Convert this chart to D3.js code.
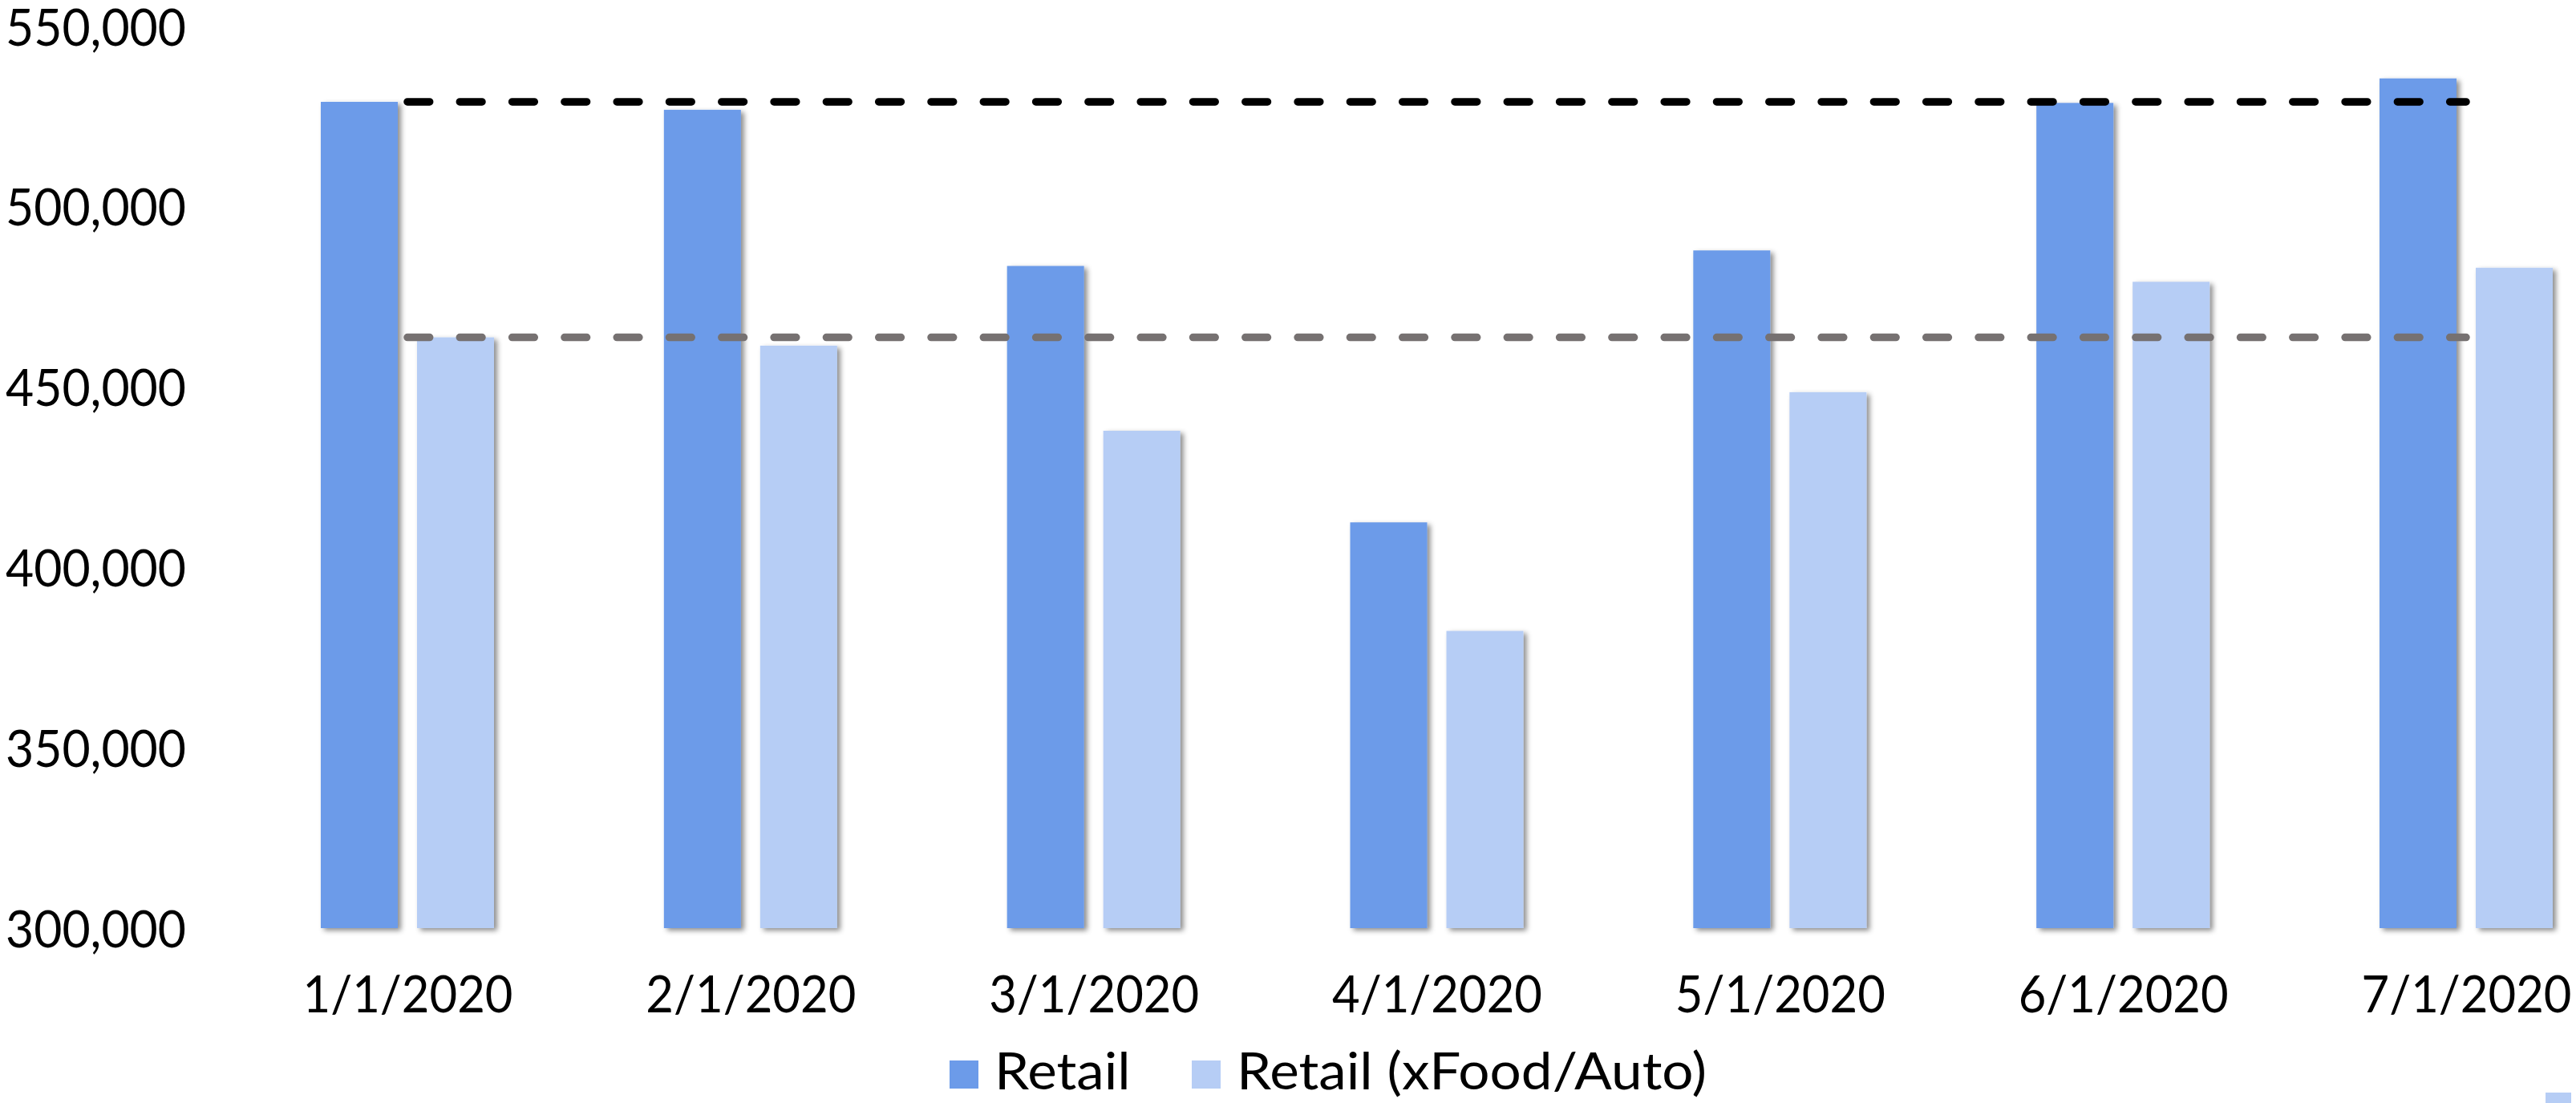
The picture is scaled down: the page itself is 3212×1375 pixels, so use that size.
<!DOCTYPE html>
<html>
<head>
<meta charset="utf-8">
<script src="https://cdn.jsdelivr.net/npm/d3@7"></script>
<style>
  html, body { margin: 0; padding: 0; background: #ffffff; }
  svg { display: block; }
  text { font-family: Lato, "Noto Sans", sans-serif; fill: #000; }
</style>
</head>
<body>
<svg id="chart" width="3212" height="1375"></svg>
<script>
// Monthly retail sales, 2020
const categories = ["1/1/2020", "2/1/2020", "3/1/2020", "4/1/2020", "5/1/2020", "6/1/2020", "7/1/2020"];
const retail = [529100, 526900, 483600, 412500, 487900, 528800, 535600];
const retailXFoodAuto = [463800, 461500, 437900, 382400, 448600, 479200, 483100];
const seriesNames = ["Retail", "Retail (xFood/Auto)"];
const yTickValues = [300000, 350000, 400000, 450000, 500000, 550000];

// January levels carried across the year as dashed reference lines
const referenceLevels = [retail[0], retailXFoodAuto[0]];

const colors = ["#6c9be9", "#b6cdf5"];
const refColors = ["#000000", "#767171"];

const svg = d3.select("#chart");

const y = d3.scaleLinear().domain([300000, 550000]).range([1157, 33]);
const x = d3.scalePoint().domain(categories).range([508, 3075]);
const xSub = d3.scaleBand().domain(d3.range(seriesNames.length)).range([-108, 108]).paddingInner(0.2);

// Stretch or squeeze a text selection so that a reference string spans a given width
function fitWidth(sel, sampleText, width) {
  let natural = null;
  sel.each(function () { if (this.textContent === sampleText) natural = this.getComputedTextLength(); });
  if (!natural) return;
  const k = width / natural;
  sel.each(function () {
    const w = this.getComputedTextLength() * k;
    d3.select(this).attr("textLength", w).attr("lengthAdjust", "spacingAndGlyphs");
  });
}

const defs = svg.append("defs");
const barShadow = defs.append("filter").attr("id", "barShadow")
  .attr("x", "-20%").attr("y", "-5%").attr("width", "140%").attr("height", "110%");
barShadow.append("feDropShadow")
  .attr("dx", 4).attr("dy", 3).attr("stdDeviation", 3)
  .attr("flood-color", "#000").attr("flood-opacity", 0.45);

const lineBlur = defs.append("filter").attr("id", "lineBlur")
  .attr("x", "-5%").attr("y", "-200%").attr("width", "110%").attr("height", "500%");
lineBlur.append("feGaussianBlur").attr("stdDeviation", 3.5);

// Bars
const rows = categories.map((c, i) => ({ cat: c, values: [retail[i], retailXFoodAuto[i]] }));
const groups = svg.append("g").selectAll("g.cat").data(rows).join("g")
  .attr("class", "cat")
  .attr("transform", d => `translate(${x(d.cat)},0)`);

groups.selectAll("rect").data(d => d.values.map((v, k) => ({ v, k }))).join("rect")
  .attr("x", d => xSub(d.k))
  .attr("width", xSub.bandwidth())
  .attr("y", d => y(d.v))
  .attr("height", d => y(300000) - y(d.v))
  .attr("fill", d => colors[d.k])
  .attr("filter", "url(#barShadow)");

// Dashed reference lines with soft shadow
const x0 = x(categories[0]), x1 = x(categories[categories.length - 1]);
const refG = svg.append("g");
referenceLevels.forEach((lvl, i) => {
  refG.append("line")
    .attr("x1", x0).attr("x2", x1)
    .attr("y1", y(lvl)).attr("y2", y(lvl))
    .attr("transform", "translate(2,7)")
    .attr("stroke", "#000").attr("stroke-opacity", 0.35)
    .attr("stroke-width", 9).attr("stroke-linecap", "round")
    .attr("stroke-dasharray", "27.7 37.6")
    .attr("filter", "url(#lineBlur)");
  refG.append("line")
    .attr("x1", x0).attr("x2", x1)
    .attr("y1", y(lvl)).attr("y2", y(lvl))
    .attr("stroke", refColors[i])
    .attr("stroke-width", 9.5).attr("stroke-linecap", "round")
    .attr("stroke-dasharray", "27.7 37.6");
});

// Y axis
const yAxis = svg.append("g").attr("transform", "translate(232,0)")
  .call(d3.axisLeft(y).tickValues(yTickValues).tickFormat(d3.format(",")).tickSize(0).tickPadding(0));
yAxis.select(".domain").remove();
const yLabels = yAxis.selectAll("text")
  .style("font-family", "Lato, 'Noto Sans', sans-serif")
  .attr("font-size", 64).attr("fill", "#000")
  .attr("dy", "0.36em");
fitWidth(yLabels, "550,000", 225);

// X axis
const xAxis = svg.append("g").attr("transform", "translate(0,1262)")
  .call(d3.axisBottom(x).tickSize(0).tickPadding(0));
xAxis.select(".domain").remove();
const xLabels = xAxis.selectAll("text")
  .style("font-family", "Lato, 'Noto Sans', sans-serif")
  .attr("font-size", 64).attr("fill", "#000")
  .attr("y", 0).attr("dy", 0);
fitWidth(xLabels, "3/1/2020", 262);

// Legend
const legendX = [1184, 1486];
const legend = svg.append("g");
seriesNames.forEach((name, i) => {
  legend.append("rect")
    .attr("x", legendX[i]).attr("y", 1322)
    .attr("width", 36).attr("height", 35)
    .attr("fill", colors[i]);
  legend.append("text")
    .attr("class", "legend-label")
    .attr("x", legendX[i] + 56).attr("y", 1358)
    .attr("font-size", 64)
    .text(name);
});
fitWidth(legend.selectAll("text"), "Retail (xFood/Auto)", 586);

// Swatch peeking in at the bottom-right edge
svg.append("rect")
  .attr("x", 3174).attr("y", 1362)
  .attr("width", 32).attr("height", 13)
  .attr("fill", colors[1]);
</script>
</body>
</html>
